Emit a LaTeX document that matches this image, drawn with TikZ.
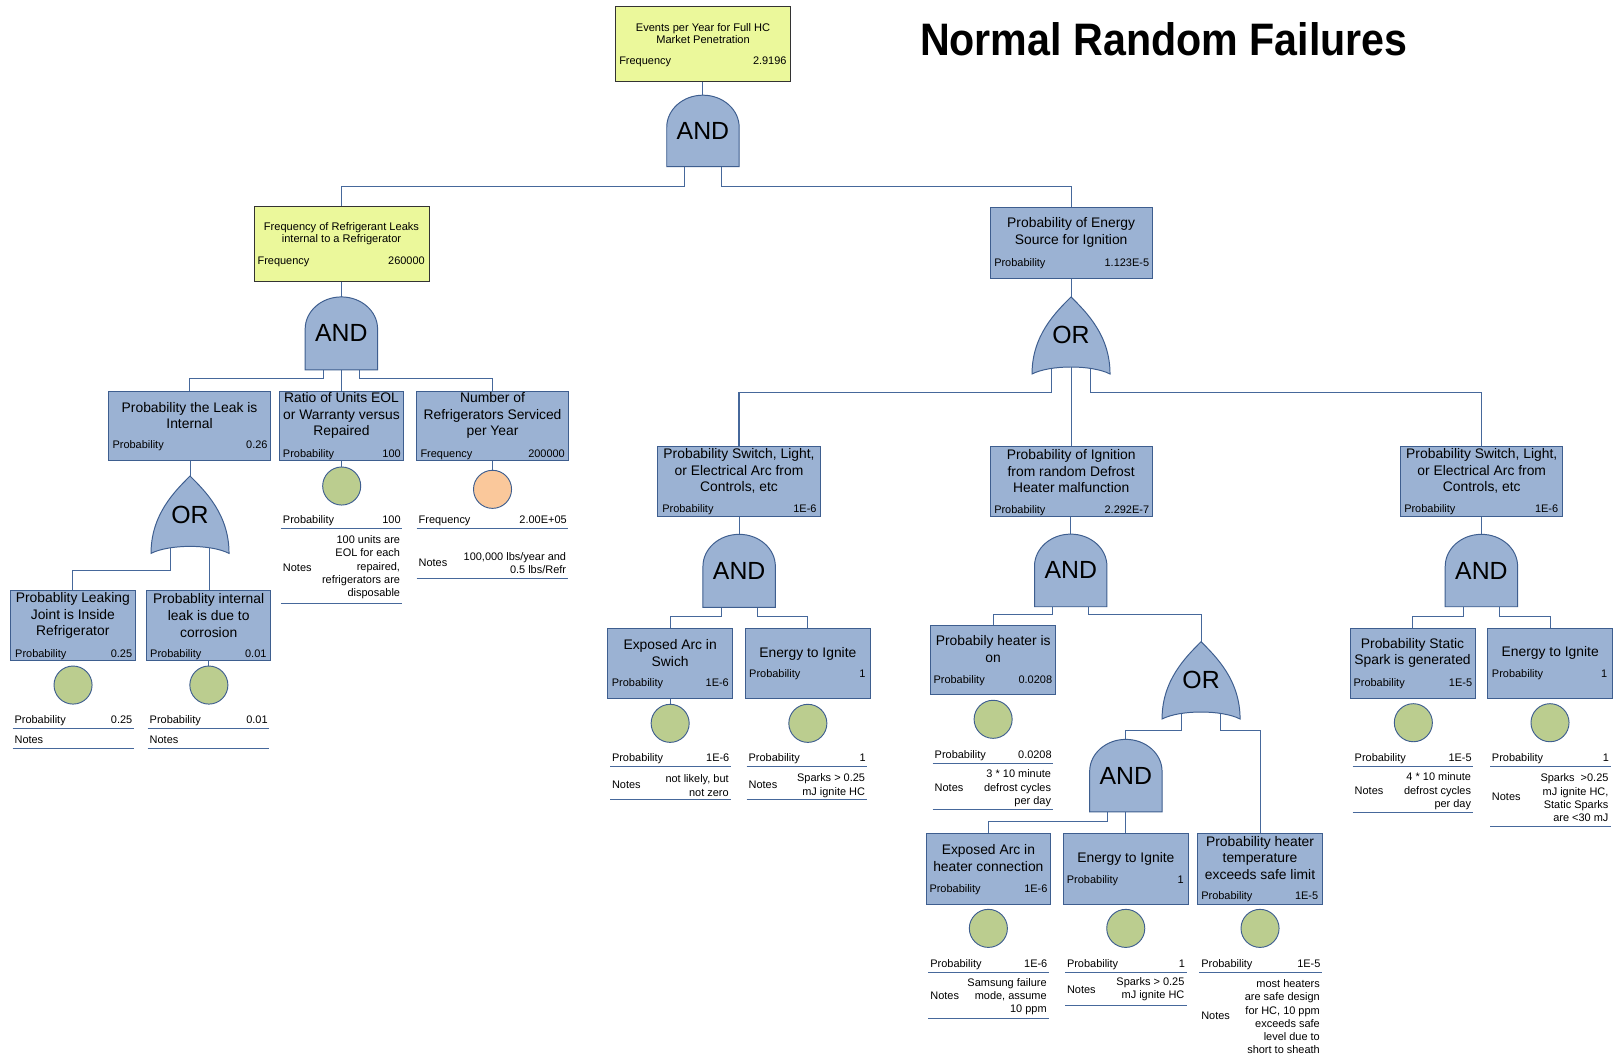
\documentclass[tikz,border=0pt]{standalone}
\usepackage{fontspec}
\setmainfont{Liberation Sans}
\usetikzlibrary{backgrounds,calc}
\definecolor{bfill}{RGB}{155,178,211}
\definecolor{bline}{RGB}{62,94,143}
\definecolor{cline}{RGB}{70,104,155}
\definecolor{yfill}{RGB}{235,248,155}
\definecolor{gfill}{RGB}{187,205,143}
\definecolor{ofill}{RGB}{250,200,155}
\tikzset{
 bluebox/.style={draw=bline, fill=bfill, line width=0.95pt, inner sep=0pt, outer sep=0pt},
 yelbox/.style={draw=black!80, fill=yfill, line width=0.9pt, inner sep=0pt, outer sep=0pt},
 gateshape/.style={draw=bline, fill=bfill, line width=0.95pt},
 gatetext/.style={inner sep=0pt, outer sep=0pt, font=\fontsize{24}{24}\selectfont},
 bigttl/.style={inner sep=0pt, align=center, font=\fontsize{13.4}{16}\selectfont},
 yttl/.style={inner sep=0pt, align=center, font=\fontsize{10.7}{12.3}\selectfont},
 lblL/.style={inner sep=0pt, anchor=west, font=\fontsize{10.6}{12.9}\selectfont, text height=7.7pt, text depth=2.2pt},
 lblR/.style={inner sep=0pt, anchor=east, font=\fontsize{10.6}{12.9}\selectfont, text height=7.7pt, text depth=2.2pt},
 notetxt/.style={inner sep=0pt, anchor=east, align=right, font=\fontsize{10.6}{12.85}\selectfont},
 conn/.style={draw=cline, line width=1pt},
 tabline/.style={draw=cline, line width=1pt},
 evt/.style={circle, draw=bline, line width=0.9pt, minimum size=36.8pt, inner sep=0pt, outer sep=0pt},
}
% box: [style]{name}{left}{right}{top}{bottom}
\newcommand\BB[6][bluebox]{\node[#1, minimum width={#4-#3}, minimum height={#6-#5}] (#2) at ({(#3+#4)/2},{(#5+#6)/2}) {};}
% title: [style]{box}{y}{text}
\newcommand\TT[4][bigttl]{\path (0,#3) coordinate (#2-ty); \node[#1] (#2-t) at (#2.center |- #2-ty) {#4};}
% label/value: {name}{xl}{xr}{y}{label}{value}
\newcommand\LV[6]{\node[lblL] (#1-l) at (#2,#4+1) {#5}; \node[lblR] (#1-v) at (#3,#4+1) {#6};}
% table prob row
\newcommand\PT[6]{\node[lblL] (#1-pl) at (#2+1.7,#4+1) {#5}; \node[lblR] (#1-pv) at (#3-1.4,#4+1) {#6};
 \coordinate (#1-u1) at (#2,#4+8.6); \coordinate (#1-u2) at (#3,#4+8.6); \draw[tabline] (#1-u1) -- (#1-u2);}
% notes: {name}{xl}{xr}{ylabel}{ytext}{text}
\newcommand\NT[6]{\node[lblL] (#1-nl) at (#2+1.7,#4+1) {Notes}; \node[notetxt] (#1-nt) at (#3-2,#5+0.5) {#6};}
\newcommand\NL[3]{\node[lblL] (#1-nl) at (#2+1.7,#3+1) {Notes};}
\newcommand\NB[4]{\coordinate (#1-b1) at (#2,#4); \coordinate (#1-b2) at (#3,#4); \draw[tabline] (#1-b1) -- (#1-b2);}
% AND gate {name}{cx}{top}{bottom}
\newcommand\ANDG[4]{\draw[gateshape] (#2-35,#4) -- (#2-35,#3+31) arc[start angle=180,end angle=360,x radius=35,y radius=31] -- (#2+35,#4) -- cycle;
 \node[gatetext, minimum width=70pt, minimum height={#4-#3}] (#1) at (#2,{(#3+#4)/2}) {AND};
 \coordinate (#1-l) at (#2-17.5,#4); \coordinate (#1-c) at (#2,#4); \coordinate (#1-r) at (#2+17.5,#4);}
% OR gate {name}{cx}{top}{tips}
\newcommand\ORG[4]{\draw[gateshape] (#2,#3) .. controls (#2-15,#3+15) and (#2-37.7,{#3+0.5*(#4-#3)}) .. (#2-37.7,#4) .. controls (#2-20,#4-9) and (#2+20,#4-9) .. (#2+37.7,#4) .. controls (#2+37.7,{#3+0.5*(#4-#3)}) and (#2+15,#3+15) .. (#2,#3) -- cycle;
 \node[gatetext, minimum width=75.4pt, minimum height={#4-#3}] (#1) at (#2,{(#3+#4)/2}) {OR};
 \coordinate (#1-l) at (#2-18.7,#4-8); \coordinate (#1-c) at (#2,#4-8); \coordinate (#1-r) at (#2+18.7,#4-8);}
\begin{document}
\begin{tikzpicture}[x=1pt,y=-1pt]
\useasboundingbox (0,0) rectangle (1565,1020.8);
\begin{scope}[on background layer]\fill[white] (0,0) rectangle (1565,1020.8);\end{scope}

\node[inner sep=0pt, anchor=base, font=\fontsize{44}{44}\selectfont\bfseries] (title) at (1125,54.1) {\scalebox{0.905}[1]{Normal Random Failures}};

% ---------- boxes
\BB[yelbox]{b0}{595.2}{764}{5.8}{78.3}
\TT[yttl]{b0}{32.4}{Events per Year for Full HC\\Market Penetration}
\LV{b0}{598.4}{760.5}{58.6}{Frequency}{2.9196}
\BB[yelbox]{b1}{245.5}{414.7}{199.1}{271.6}
\TT[yttl]{b1}{225.8}{Frequency of Refrigerant Leaks\\internal to a Refrigerator}
\LV{b1}{248.8}{410.8}{252}{Frequency}{260000}
\BB{b2}{957}{1113.9}{200.4}{269}
\TT{b2}{224.8}{Probability of Energy\\Source for Ignition}
\LV{b2}{960.9}{1111}{253.6}{Probability}{1.123E-5}
\BB{b3}{104.7}{261.7}{378}{445.6}
\TT{b3}{401.7}{Probability the Leak is\\Internal}
\LV{b3}{108.6}{258.8}{430.2}{Probability}{0.26}
\BB{b4}{269.7}{390.5}{378.6}{445.6}
\TT{b4}{401.7}{Ratio of Units EOL\\or Warranty versus\\Repaired}
\LV{b4}{273.3}{387.6}{438.2}{Probability}{100}
\BB{b5}{402.8}{549.4}{378.6}{445.6}
\TT{b5}{401.7}{Number of\\Refrigerators Serviced\\per Year}
\LV{b5}{406.3}{546.2}{438.2}{Frequency}{200000}
\BB{b6}{636}{792.7}{431.8}{499.4}
\TT{b6}{455.5}{Probability Switch, Light,\\or Electrical Arc from\\Controls, etc}
\LV{b6}{640}{789.5}{492}{Probability}{1E-6}
\BB{b7}{957}{1113.9}{431.8}{499.4}
\TT{b7}{455.7}{Probability of Ignition\\from random Defrost\\Heater malfunction}
\LV{b7}{960.9}{1111}{492.3}{Probability}{2.292E-7}
\BB{b8}{1354}{1510.6}{431.8}{498.8}
\TT{b8}{455.5}{Probability Switch, Light,\\or Electrical Arc from\\Controls, etc}
\LV{b8}{1357.2}{1506.4}{491.4}{Probability}{1E-6}
\BB{b9}{10.3}{130.5}{571}{638}
\TT{b9}{595}{Probablity Leaking\\Joint is Inside\\Refrigerator}
\LV{b9}{14.5}{127.9}{631.5}{Probability}{0.25}
\BB{b10}{141.8}{261.7}{571}{638}
\TT{b10}{595}{Probablity internal\\leak is due to\\corrosion}
\LV{b10}{145}{257.8}{631.5}{Probability}{0.01}
\BB{b11}{587.4}{708.2}{607.4}{675}
\TT{b11}{631.5}{Exposed Arc in\\Swich}
\LV{b11}{591.3}{704.7}{659.9}{Probability}{1E-6}
\BB{b12}{720.8}{841}{607.4}{675}
\TT{b12}{632.3}{Energy to Ignite}
\LV{b12}{724}{836.8}{651.5}{Probability}{1}
\BB{b13}{899.6}{1020.5}{604.2}{671.2}
\TT{b13}{627.5}{Probabily heater is\\on}
\LV{b13}{902.2}{1017.2}{656.7}{Probability}{0.0208}
\BB{b14}{1305}{1425.8}{607.4}{675}
\TT{b14}{631}{Probability Static\\Spark is generated}
\LV{b14}{1308.2}{1423.2}{659.9}{Probability}{1E-5}
\BB{b15}{1438}{1559}{607.4}{675}
\TT{b15}{631.4}{Energy to Ignite}
\LV{b15}{1442}{1553.7}{650.9}{Probability}{1}
\BB{b16}{895.1}{1015.7}{805.5}{873.9}
\TT{b16}{829.4}{Exposed Arc in\\heater connection}
\LV{b16}{898.3}{1012.7}{858.7}{Probability}{1E-6}
\BB{b17}{1027.9}{1148.7}{805.5}{873.9}
\TT{b17}{830.1}{Energy to Ignite}
\LV{b17}{1031.1}{1144.5}{850}{Probability}{1}
\BB{b18}{1157.7}{1278.3}{805.5}{873.9}
\TT{b18}{829.2}{Probability heater\\temperature\\exceeds safe limit}
\LV{b18}{1161}{1274.4}{866.1}{Probability}{1E-5}

% ---------- gates
\ANDG{g0}{679.5}{92}{161}
\ANDG{g1}{330}{287}{357.5}
\ORG{g2}{1035.3}{287}{361.5}
\ORG{g3}{183.7}{460.1}{534.9}
\ANDG{g4}{714.5}{516.5}{587}
\ANDG{g5}{1035}{516.3}{586.5}
\ANDG{g6}{1432}{516.5}{586.5}
\ORG{g7}{1161}{620.3}{695}
\ANDG{g8}{1088.3}{714.7}{784.8}

% ---------- basic events
\node[evt,fill=gfill] (c4) at (330.3,469.8) {};
\node[evt,fill=ofill] (c5) at (476.1,473) {};
\node[evt,fill=gfill] (c9) at (70.6,662.2) {};
\node[evt,fill=gfill] (c10) at (201.9,662.2) {};
\node[evt,fill=gfill] (c11) at (647.8,699.2) {};
\node[evt,fill=gfill] (c12) at (780.9,699.2) {};
\node[evt,fill=gfill] (c13) at (960,695.3) {};
\node[evt,fill=gfill] (c14) at (1366.2,698.6) {};
\node[evt,fill=gfill] (c15) at (1498.3,698.6) {};
\node[evt,fill=gfill] (c16) at (955.4,897.4) {};
\node[evt,fill=gfill] (c17) at (1088.2,897.4) {};
\node[evt,fill=gfill] (c18) at (1218,897.4) {};

% ---------- tables
\PT{t4}{271.6}{388.9}{502.7}{Probability}{100}
\NT{t4}{271.6}{388.9}{548.4}{547.8}{100 units are\\EOL for each\\repaired,\\refrigerators are\\disposable}
\NB{t4}{271.6}{388.9}{583}
\PT{t5}{402.8}{549.4}{502.7}{Frequency}{2.00E+05}
\NT{t5}{402.8}{549.4}{544}{543.9}{100,000 lbs/year and\\0.5 lbs/Refr}
\NB{t5}{402.8}{549.4}{559}
\PT{t9}{12.2}{129.5}{695.3}{Probability}{0.25}
\NL{t9}{12.2}{714.7}
\NB{t9}{12.2}{129.5}{723.4}
\PT{t10}{142.8}{260.3}{695.3}{Probability}{0.01}
\NL{t10}{142.8}{714.7}
\NB{t10}{142.8}{260.3}{723.4}
\PT{t11}{589.7}{706.6}{732}{Probability}{1E-6}
\NT{t11}{589.7}{706.6}{758.2}{758.9}{not likely, but\\not zero}
\NB{t11}{589.7}{706.6}{772.7}
\PT{t12}{721.8}{838.4}{732}{Probability}{1}
\NT{t12}{721.8}{838.4}{758.2}{758.9}{Sparks > 0.25\\mJ ignite HC}
\NB{t12}{721.8}{838.4}{772.7}
\PT{t13}{901.6}{1018.2}{729.2}{Probability}{0.0208}
\NT{t13}{901.6}{1018.2}{761.4}{761.6}{3 * 10 minute\\defrost cycles\\per day}
\NB{t13}{901.6}{1018.2}{782.3}
\PT{t14}{1307.6}{1424.2}{732}{Probability}{1E-5}
\NT{t14}{1307.6}{1424.2}{764.3}{764.3}{4 * 10 minute\\defrost cycles\\per day}
\NB{t14}{1307.6}{1424.2}{785.6}
\PT{t15}{1440.3}{1557}{732}{Probability}{1}
\NT{t15}{1440.3}{1557}{770.1}{770.7}{Sparks\ \ >0.25\\mJ ignite HC,\\Static Sparks\\are <30 mJ}
\NB{t15}{1440.3}{1557}{798.5}
\PT{t16}{897.4}{1014}{931.2}{Probability}{1E-6}
\NT{t16}{897.4}{1014}{962.8}{962.8}{Samsung failure\\mode, assume\\10 ppm}
\NB{t16}{897.4}{1014}{984.4}
\PT{t17}{1029.5}{1147.1}{931.2}{Probability}{1}
\NT{t17}{1029.5}{1147.1}{956.3}{955.9}{Sparks > 0.25\\mJ ignite HC}
\NB{t17}{1029.5}{1147.1}{971.5}
\PT{t18}{1159.3}{1278}{931.2}{Probability}{1E-5}
\NT{t18}{1159.3}{1278}{982.1}{982.4}{most heaters\\are safe design\\for HC, 10 ppm\\exceeds safe\\level due to\\short to sheath}

% ---------- connectors
\begin{scope}[on background layer]
\draw[conn] (g0.north |- b0.south) -- (g0.north);
\draw[conn] (g0-l) -- ++(0,19.5) -| (b1.north);
\draw[conn] (g0-r) -- ++(0,19.5) -| (b2.north);
\draw[conn] (g1.north |- b1.south) -- (g1.north);
\draw[conn] (g1-l) -- ++(0,8.2) -| (b3.north);
\draw[conn] (g1-c) -- (g1-c |- b4.north);
\draw[conn] (g1-r) -- ++(0,8.2) -| (b5.north);
\draw[conn] (g2.north |- b2.south) -- (g2.north);
\draw[conn] (g2-l) -- ++(0,26.1) -| (b6.north);
\draw[conn] (g2-c) -- (g2-c |- b7.north);
\draw[conn] (g2-r) -- ++(0,26.1) -| (b8.north);
\draw[conn] (g3.north |- b3.south) -- (g3.north);
\draw[conn] (g3-l) -- ++(0,24.8) -| (b9.north);
\draw[conn] (g3-r) -- (g3-r |- b10.north);
\draw[conn] (g4.north |- b6.south) -- (g4.north);
\draw[conn] (g4-l) -- ++(0,9.1) -| (b11.north);
\draw[conn] (g4-r) -- ++(0,9.1) -| (b12.north);
\draw[conn] (g5.north |- b7.south) -- (g5.north);
\draw[conn] (g5-l) -- ++(0,7.1) -| (b13.north);
\draw[conn] (g5-r) -- ++(0,7.1) -| (g7.north);
\draw[conn] (g6.north |- b8.south) -- (g6.north);
\draw[conn] (g6-l) -- ++(0,9.1) -| (b14.north);
\draw[conn] (g6-r) -- ++(0,9.1) -| (b15.north);
\draw[conn] (g7-l) -- ++(0,18.7) -| (g8.north);
\draw[conn] (g7-r) -- ++(0,18.7) -| (b18.north);
\draw[conn] (g8-l) -- ++(0,9.5) -| (b16.north);
\draw[conn] (g8-c) -- (g8-c |- b17.north);
\draw[conn] (c4.north |- b4.south) -- (c4.north);
\draw[conn] (c5.north |- b5.south) -- (c5.north);
\draw[conn] (c10.north |- b10.south) -- (c10.north);
\draw[conn] (c11.north |- b11.south) -- (c11.north);
\end{scope}
\end{tikzpicture}
\end{document}
